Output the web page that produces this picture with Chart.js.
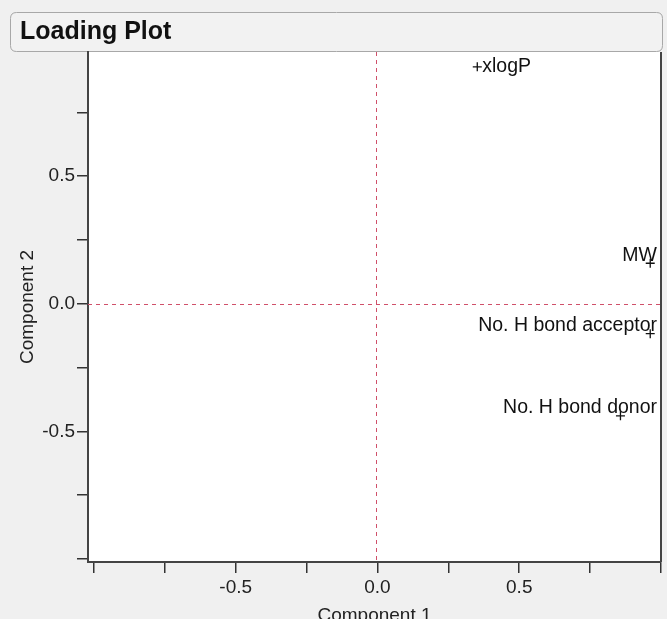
<!DOCTYPE html>
<html>
<head>
<meta charset="utf-8">
<script src="https://cdn.jsdelivr.net/npm/chart.js@4/dist/chart.umd.min.js"></script>
<style>
  html, body { margin: 0; padding: 0; background: #f0f0f0; overflow: hidden; }
  #wrap { width: 667px; height: 619px; }
</style>
</head>
<body>
<div id="wrap"><canvas id="c" width="667" height="619"></canvas></div>
<script>
// ---- data ----
const variableNames = ["xlogP", "MW", "No. H bond acceptor", "No. H bond donor"];
const component1 = [0.352, 0.962, 0.962, 0.857];
const component2 = [0.929, 0.159, -0.117, -0.439];
const xTickValues = [-1, -0.75, -0.5, -0.25, 0, 0.25, 0.5, 0.75, 1];
const yTickValues = [-1, -0.75, -0.5, -0.25, 0, 0.25, 0.5, 0.75];
const labeledTicks = [-0.5, 0, 0.5];
const chartTitle = "Loading Plot";
const xTitle = "Component 1";
const yTitle = "Component 2";

const points = component1.map((x, i) => ({ x: x, y: component2[i], name: variableNames[i] }));

const FONT = "'Liberation Sans', Arial, sans-serif";
Chart.defaults.font.family = FONT;
Chart.defaults.color = '#111';

function tickLabel(v) {
  return labeledTicks.some(t => Math.abs(t - v) < 1e-9) ? v.toFixed(1) : '';
}

const backgroundPlugin = {
  id: 'bg',
  beforeDraw(chart) {
    const ctx = chart.ctx, a = chart.chartArea;
    ctx.save();
    ctx.fillStyle = '#f0f0f0';
    ctx.fillRect(0, 0, chart.width, chart.height);
    // title box
    const x0 = 10.5, y0 = 12.5, x1 = 662.5, y1 = 51.5, r = 6;
    ctx.beginPath();
    ctx.moveTo(x0 + r, y0);
    ctx.lineTo(x1 - r, y0); ctx.quadraticCurveTo(x1, y0, x1, y0 + r);
    ctx.lineTo(x1, y1 - r); ctx.quadraticCurveTo(x1, y1, x1 - r, y1);
    ctx.lineTo(x0 + r, y1); ctx.quadraticCurveTo(x0, y1, x0, y1 - r);
    ctx.lineTo(x0, y0 + r); ctx.quadraticCurveTo(x0, y0, x0 + r, y0);
    ctx.closePath();
    ctx.fillStyle = '#f2f2f2';
    ctx.fill();
    ctx.strokeStyle = '#a8a8a8';
    ctx.lineWidth = 1;
    ctx.stroke();
    // plot area
    ctx.fillStyle = '#ffffff';
    ctx.fillRect(a.left, a.top, a.right - a.left, a.bottom - a.top);
    ctx.restore();
  },
  beforeDatasetsDraw(chart) {
    const ctx = chart.ctx, a = chart.chartArea;
    const xs = chart.scales.x, ys = chart.scales.y;
    const x0 = xs.getPixelForValue(0), y0 = ys.getPixelForValue(0);
    ctx.save();
    ctx.strokeStyle = '#d0506a';
    ctx.lineWidth = 1;
    ctx.setLineDash([4, 4]);
    ctx.beginPath();
    ctx.moveTo(Math.round(x0) - 0.5, a.top);
    ctx.lineTo(Math.round(x0) - 0.5, a.bottom);
    ctx.moveTo(a.left, Math.round(y0) + 0.5);
    ctx.lineTo(a.right, Math.round(y0) + 0.5);
    ctx.stroke();
    // right frame
    ctx.setLineDash([]);
    ctx.strokeStyle = '#444';
    ctx.lineWidth = 2;
    ctx.beginPath();
    ctx.moveTo(a.right, a.top);
    ctx.lineTo(a.right, a.bottom);
    ctx.stroke();
    ctx.restore();
  },
  afterDatasetsDraw(chart) {
    const ctx = chart.ctx, a = chart.chartArea;
    const meta = chart.getDatasetMeta(0);
    ctx.save();
    ctx.font = '19.5px ' + FONT;
    ctx.fillStyle = '#111';
    ctx.textBaseline = 'middle';
    ctx.textAlign = 'left';
    meta.data.forEach((el, i) => {
      const name = points[i].name;
      const w = ctx.measureText(name).width;
      let tx = el.x + 5, ty = el.y;
      if (tx + w > a.right - 4) { tx = a.right - 4 - w; ty = el.y - 8; }
      ctx.fillText(name, tx, ty);
    });
    ctx.restore();
  }
};

new Chart(document.getElementById('c'), {
  type: 'scatter',
  data: {
    datasets: [{
      data: points,
      pointStyle: 'cross',
      pointRadius: 4.5,
      pointHoverRadius: 4.5,
      pointBorderWidth: 1.3,
      borderColor: '#111',
      backgroundColor: '#111'
    }]
  },
  options: {
    responsive: false,
    animation: false,
    events: [],
    layout: { padding: { left: 20, right: 6, top: 0, bottom: 0 } },
    plugins: {
      legend: { display: false },
      tooltip: { enabled: false },
      title: {
        display: true,
        text: chartTitle,
        align: 'start',
        color: '#111',
        font: { size: 25, weight: 'bold', family: FONT, lineHeight: 1.2 },
        padding: { top: 17, bottom: 5 }
      }
    },
    scales: {
      x: {
        type: 'linear',
        min: -1.021,
        max: 1.0,
        afterBuildTicks(scale) { scale.ticks = xTickValues.map(v => ({ value: v })); },
        afterFit(scale) { scale.height = 57; },
        ticks: { callback: tickLabel, autoSkip: false, maxRotation: 0, padding: 3, font: { size: 19 }, color: '#222' },
        grid: { drawOnChartArea: false, drawTicks: true, tickLength: 11, color: '#333', lineWidth: 1.5 },
        border: { display: true, color: '#444', width: 2 },
        title: { display: true, text: xTitle, font: { size: 19 }, color: '#222', padding: { top: 0, bottom: -8.4 } }
      },
      y: {
        type: 'linear',
        min: -1.012,
        max: 0.987,
        afterBuildTicks(scale) { scale.ticks = yTickValues.map(v => ({ value: v })); },
        afterFit(scale) { scale.width = 68; },
        ticks: { callback: tickLabel, autoSkip: false, padding: 2, font: { size: 19 }, color: '#222' },
        grid: { drawOnChartArea: false, drawTicks: true, tickLength: 11, color: '#333', lineWidth: 1.5 },
        border: { display: true, color: '#444', width: 2 },
        title: { display: true, text: yTitle, font: { size: 19 }, color: '#222', padding: { top: -3.9, bottom: 0 } }
      }
    }
  },
  plugins: [backgroundPlugin]
});
</script>
</body>
</html>
